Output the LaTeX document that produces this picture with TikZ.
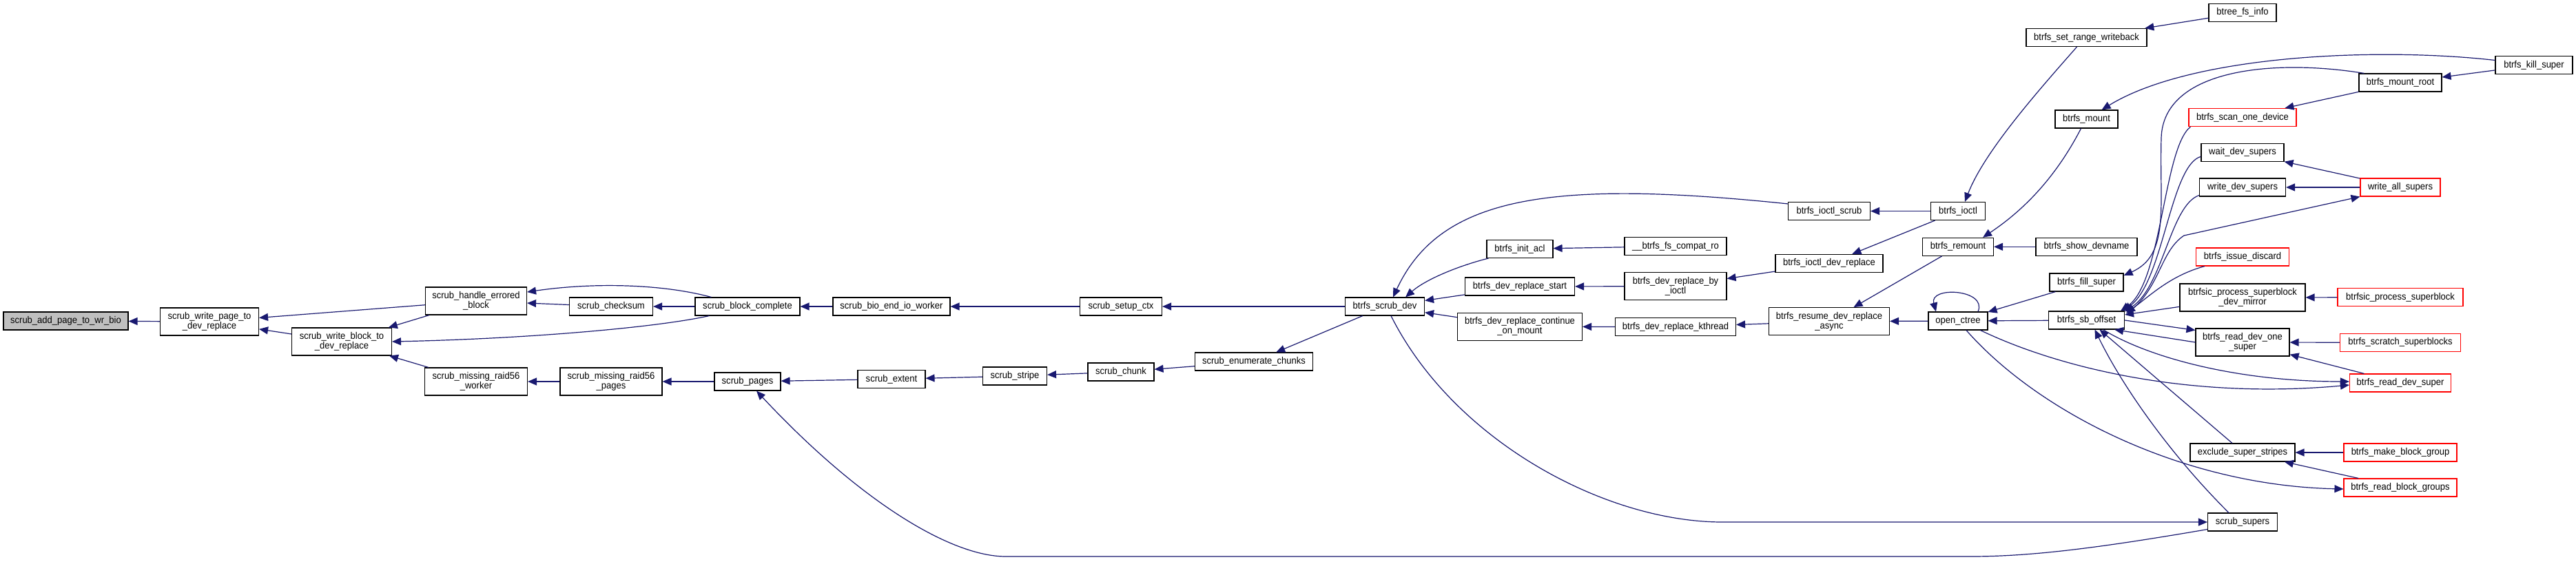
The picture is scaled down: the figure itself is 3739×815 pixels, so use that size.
\documentclass[tikz,border=0pt]{standalone}
\usepackage{fontspec}
\setmainfont{Liberation Sans}[FakeStretch=0.93]
\usetikzlibrary{arrows.meta,calc}
\definecolor{edgeblue}{HTML}{191970}
\definecolor{rootgray}{HTML}{BFBFBF}
\definecolor{nodered}{HTML}{FF0000}
\newcommand\gfont{\fontsize{14}{14}\selectfont}
\newcommand\gn[7]{\node[#1,minimum width=#5pt,minimum height=#6pt] (#2) at (#3,#4) {#7};}
\tikzset{
  box/.style={draw=black, line width=1.1pt, fill=white, inner sep=0pt, align=center, font=\gfont},
  redbox/.style={box, draw=nodered},
  rootbox/.style={box, fill=rootgray},
  edge/.style={draw=edgeblue, line width=1.2pt, -{Triangle[length=13pt,width=11pt]}},
}
\begin{document}
\begin{tikzpicture}[x=1pt,y=-1pt]
\useasboundingbox[fill=white] (0,0) rectangle (3739,815);
% nodes
\gn{rootbox}{A}{95.5}{466}{181}{26}{scrub\_add\_page\_to\_wr\_bio}
\gn{box}{WP}{304}{467}{143}{40}{scrub\_write\_page\_to\\\_dev\_replace}
\gn{box}{WB}{496}{496}{145}{40}{scrub\_write\_block\_to\\\_dev\_replace}
\gn{box}{HE}{691}{437}{147}{40}{scrub\_handle\_errored\\\_block}
\gn{box}{RW}{691}{554}{149}{40}{scrub\_missing\_raid56\\\_worker}
\gn{box}{CS}{887}{445}{121}{26}{scrub\_checksum}
\gn{box}{RP}{887}{554}{148}{40}{scrub\_missing\_raid56\\\_pages}
\gn{box}{BC}{1085}{445}{152}{26}{scrub\_block\_complete}
\gn{box}{SP}{1085}{554}{96}{26}{scrub\_pages}
\gn{box}{BE}{1294}{445}{170}{26}{scrub\_bio\_end\_io\_worker}
\gn{box}{SE}{1294}{550.5}{98}{26}{scrub\_extent}
\gn{box}{SS}{1473}{546}{93}{26}{scrub\_stripe}
\gn{box}{SC}{1627}{445}{119}{26}{scrub\_setup\_ctx}
\gn{box}{CH}{1627}{540}{96}{26}{scrub\_chunk}
\gn{box}{EC}{1820}{525}{171}{26}{scrub\_enumerate\_chunks}
\gn{box}{SD}{2010}{445}{115}{26}{btrfs\_scrub\_dev}
\gn{box}{IA}{2206}{361.5}{96}{26}{btrfs\_init\_acl}
\gn{box}{DRS}{2206}{416}{159}{26}{btrfs\_dev\_replace\_start}
\gn{box}{CM}{2206}{474.3}{181}{40}{btrfs\_dev\_replace\_continue\\\_on\_mount}
\gn{box}{FC}{2432}{357.5}{148}{26}{\_\_btrfs\_fs\_compat\_ro}
\gn{box}{DRI}{2432}{415.7}{148}{40}{btrfs\_dev\_replace\_by\\\_ioctl}
\gn{box}{KT}{2432}{474.5}{175}{26}{btrfs\_dev\_replace\_kthread}
\gn{box}{IS}{2655}{306.5}{119}{26}{btrfs\_ioctl\_scrub}
\gn{box}{IDR}{2655}{382.3}{156}{26}{btrfs\_ioctl\_dev\_replace}
\gn{box}{RA}{2655}{466.7}{175}{40}{btrfs\_resume\_dev\_replace\\\_async}
\gn{box}{IO}{2842}{306.5}{79}{26}{btrfs\_ioctl}
\gn{box}{RM}{2842}{358.3}{103}{26}{btrfs\_remount}
\gn{box}{OC}{2842}{466}{86}{26}{open\_ctree}
\gn{box}{RW2}{3028.5}{54.5}{175}{26}{btrfs\_set\_range\_writeback}
\gn{box}{MT}{3028.5}{173}{91}{26}{btrfs\_mount}
\gn{box}{SDN}{3028.5}{358.3}{147}{26}{btrfs\_show\_devname}
\gn{box}{FS}{3028.5}{410}{107}{26}{btrfs\_fill\_super}
\gn{box}{SB}{3028.5}{465}{110}{26}{btrfs\_sb\_offset}
\gn{box}{BF}{3255}{18.3}{98}{26}{btree\_fs\_info}
\gn{redbox}{SOD}{3255}{170.5}{156}{26}{btrfs\_scan\_one\_device}
\gn{box}{WDS}{3255}{221.3}{120}{26}{wait\_dev\_supers}
\gn{box}{WRDS}{3255}{272}{125}{26}{write\_dev\_supers}
\gn{redbox}{ID}{3255}{373}{135}{26}{btrfs\_issue\_discard}
\gn{box}{PSDM}{3255}{432}{182}{40}{btrfsic\_process\_superblock\\\_dev\_mirror}
\gn{box}{RDOS}{3255}{497}{136}{40}{btrfs\_read\_dev\_one\\\_super}
\gn{box}{ESS}{3255}{657}{152}{26}{exclude\_super\_stripes}
\gn{box}{SUP}{3255}{758}{101}{26}{scrub\_supers}
\gn{box}{MR}{3484}{120}{120}{26}{btrfs\_mount\_root}
\gn{redbox}{WAS}{3484}{272}{116}{26}{write\_all\_supers}
\gn{redbox}{PS}{3484}{431.7}{182}{26}{btrfsic\_process\_superblock}
\gn{redbox}{SSB}{3484}{497.3}{175}{26}{btrfs\_scratch\_superblocks}
\gn{redbox}{RDS}{3484}{556}{147}{26}{btrfs\_read\_dev\_super}
\gn{redbox}{MBG}{3484}{657}{164}{26}{btrfs\_make\_block\_group}
\gn{redbox}{RBG}{3484}{708}{164}{26}{btrfs\_read\_block\_groups}
\gn{box}{KS}{3678}{94.5}{112}{26}{btrfs\_kill\_super}
% straight edges
\draw[edge] (WP) -- (A);
\draw[edge] (HE) -- (WP);
\draw[edge] (WB) -- (WP);
\draw[edge] (HE) -- (WB);
\draw[edge] (RW) -- (WB);
\draw[edge] (CS) -- (HE);
\draw[edge] (BC) -- (CS);
\draw[edge] (BE) -- (BC);
\draw[edge] (SC) -- (BE);
\draw[edge] (SD) -- (SC);
\draw[edge] (RP) -- (RW);
\draw[edge] (SP) -- (RP);
\draw[edge] (SE) -- (SP);
\draw[edge] (SS) -- (SE);
\draw[edge] (CH) -- (SS);
\draw[edge] (EC) -- (CH);
\draw[edge] (SD) -- (EC);
\draw[edge] (DRS) -- (SD);
\draw[edge] (CM) -- (SD);
\draw[edge] (FC) -- (IA);
\draw[edge] (DRI) -- (DRS);
\draw[edge] (KT) -- (CM);
\draw[edge] (IDR) -- (DRI);
\draw[edge] (IO) -- (IS);
\draw[edge] (IO) -- (IDR);
\draw[edge] (RA) -- (KT);
\draw[edge] (RM) -- (RA);
\draw[edge] (OC) -- (RA);
\draw[edge] (SDN) -- (RM);
\draw[edge] (FS) -- (OC);
\draw[edge] (SB) -- (OC);
\draw[edge] (BF) -- (RW2);
\draw[edge] (KS) -- (MR);
\draw[edge] (MR) -- (SOD);
\draw[edge] (WAS) -- (WDS);
\draw[edge] (WAS) -- (WRDS);
\draw[edge] (PS) -- (PSDM);
\draw[edge] (PSDM) -- (SB);
\draw[edge] (SSB) -- (RDOS);
\draw[edge] (RDS) -- (RDOS);
\draw[edge] (MBG) -- (ESS);
\draw[edge] (RBG) -- (ESS);
\draw[edge] (SB.east) -- ($(RDOS.north west)+(0,3)$);
\draw[edge] (RDOS.west) -- ($(SB.south east)+(-15,0)$);
\draw[edge] ($(ESS.north)+(-15,0)$) -- ($(SB.south)+(19,0)$);
% curved edges
\draw[edge] ($(IA.south west)+(3,0)$) .. controls (2120,385) and (2070,405) .. ($(SD.north)+(30,0)$);
\draw[edge] ($(BC.south west)+(21,0)$) .. controls (950,476) and (760,492) .. (WB.east);
\draw[edge] ($(BC.north west)+(24,0)$) .. controls (960,412) and (860,410) .. ($(HE.east)+(0,-13)$);
\draw[edge] ($(IS.north west)+(0,3)$) .. controls (2250,260) and (2090,285) .. ($(SD.north)+(12,0)$);
\draw[edge] ($(SD.south)+(9,0)$) .. controls (2110,640) and (2330,758) .. (2500,758) -- (SUP.west);
\draw[edge] ($(SUP.south west)+(0,-3)$) .. controls (3050,795) and (2950,808) .. (2860,808) -- (1460,808) .. controls (1380,808) and (1248,728) .. ($(SP.south)+(13,0)$);
\draw[edge] ($(KS.west)+(0,-7)$) .. controls (3450,68) and (3180,80) .. ($(MT.north east)+(-24,0)$);
\draw[edge] ($(MR.north west)+(8,0)$) .. controls (3300,85) and (3140,100) .. (3137,200) .. controls (3134,300) and (3150,370) .. ($(FS.east)+(0,-10)$);
\draw[edge] ($(SOD.south west)+(3,0)$) .. controls (3140,215) and (3138,410) .. ($(SB.north east)+(-6,0)$);
\draw[edge] ($(WDS.west)+(0,6)$) .. controls (3150,240) and (3140,410) .. ($(SB.north east)+(-3,0)$);
\draw[edge] ($(WRDS.south west)+(0,-2)$) .. controls (3150,298) and (3140,415) .. ($(SB.north east)+(0,1)$);
\draw[edge] ($(ID.south west)+(13,0)$) .. controls (3150,400) and (3120,430) .. ($(SB.north east)+(2,3)$);
\draw[edge] ($(SB.north east)+(5,2)$) .. controls (3135,420) and (3135,365) .. (3170,342) -- (WAS.south west);
\draw[edge] ($(SUP.north)+(-20,0)$) .. controls (3150,660) and (3080,560) .. ($(SB.south)+(12,0)$);
\draw[edge] ($(SB.south)+(24,0)$) .. controls (3120,520) and (3250,554) .. ($(RDS.west)+(0,-2)$);
\draw[edge] ($(OC.south east)+(-11,0)$) .. controls (2990,535) and (3180,580) .. ($(RDS.west)+(0,3)$);
\draw[edge] ($(OC.south)+(12,0)$) .. controls (2960,600) and (3170,705) .. ($(RBG.west)+(0,2)$);
\draw[edge] ($(RW2.south)+(-14,0)$) .. controls (2960,130) and (2880,220) .. ($(IO.north)+(10,0)$);
\draw[edge] ($(MT.south)+(-8,0)$) .. controls (2980,265) and (2930,310) .. ($(RM.north)+(36,0)$);
\draw[edge] ($(OC.north)+(29,0)$) .. controls (2885,420) and (2800,415) .. ($(OC.north)+(-32,0)$);
\end{tikzpicture}
\end{document}
